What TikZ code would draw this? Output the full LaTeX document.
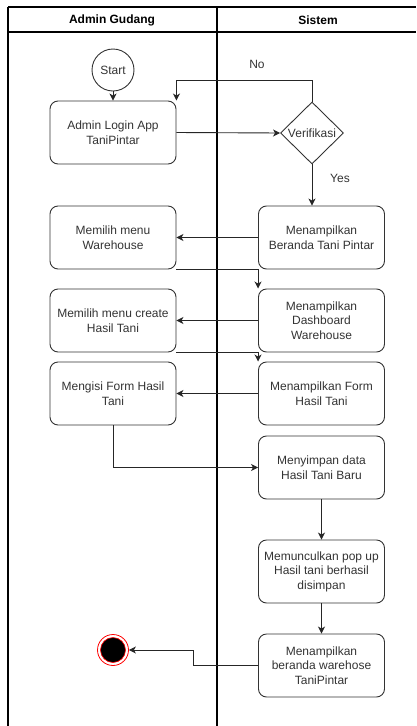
\documentclass[tikz,border=0pt]{standalone}
\usepackage{fontspec}
\setmainfont{Liberation Sans}
\usetikzlibrary{shapes.geometric,arrows.meta}
\begin{document}
\begin{tikzpicture}[x=1pt,y=-1pt,
  act/.style={draw=black!80, line width=0.9pt, rounded corners=8pt,
    minimum width=126pt, minimum height=63pt, align=center, inner sep=1pt,
    font=\fontsize{12}{14.5}\selectfont, text=black!80},
  flow/.style={draw=black!85, line width=0.9pt,
    -{Stealth[length=7pt,width=7pt,inset=2pt]}},
  lane/.style={line width=1.1pt, draw=black},
  head/.style={font=\bfseries\fontsize{12}{14}\selectfont},
  note/.style={font=\fontsize{12}{14}\selectfont, text=black!80}]
\useasboundingbox (0,0) rectangle (416,726);

% swimlanes
\draw[lane] (8,7) -- (416,7);
\draw[lane] (8,32) -- (416,32);
\draw[lane] (8,7) -- (8,726);
\draw[lane] (217,7) -- (217,726);
\node[head] (hadmin) at (112,20) {Admin Gudang};
\node[head] (hsys) at (318,20) {Sistem};

% start / end states
\node[circle, draw=black!80, line width=0.9pt, minimum size=42pt, inner sep=0pt,
  font=\fontsize{12}{14}\selectfont, text=black!80] (start) at (113,70) {Start};
\node[circle, draw=red, line width=0.8pt, minimum size=31pt, inner sep=0pt] (end) at (113,650) {};
\node[circle, fill=black, draw=red, line width=0.6pt, minimum size=25pt, inner sep=0pt] (endcore) at (113,650) {};

% activities
\node[act] (login) at (113,132.5) {Admin Login App\\TaniPintar};
\node[diamond, draw=black!80, line width=0.9pt, minimum width=63pt, minimum height=62pt,
  inner sep=0pt, label={[note]center:Verifikasi}] (verif) at (312,133) {};
\node[act] (beranda) at (321.5,237.5) {Menampilkan\\Beranda Tani Pintar};
\node[act] (menu) at (113,237.5) {Memilih menu\\Warehouse};
\node[act] (dash) at (321.5,320.5) {Menampilkan\\Dashboard\\Warehouse};
\node[act] (create) at (113,320.5) {Memilih menu create\\Hasil Tani};
\node[act] (form) at (321.5,393.5) {Menampilkan Form\\Hasil Tani};
\node[act] (isi) at (113,393.5) {Mengisi Form Hasil\\Tani};
\node[act] (simpan) at (321.5,467.5) {Menyimpan data\\Hasil Tani Baru};
\node[act] (popup) at (321.5,571.5) {Memunculkan pop up\\Hasil tani berhasil\\disimpan};
\node[act] (akhir) at (321.5,665.5) {Menampilkan\\beranda warehose\\TaniPintar};

% labels
\node[note] (lno) at (257,64) {No};
\node[note] (lyes) at (340,178) {Yes};

% flows
\draw[flow] (start) -- (login);
\draw[flow] (login.east) -- (verif.west);
\draw[flow] (verif.north) -- ++(0,-21) -| (login.north east);
\draw[flow] (verif.south) -- (verif.south |- beranda.north);
\draw[flow] (beranda.west) -- (menu.east);
\draw[flow] (menu.south east) -| (dash.north west);
\draw[flow] (dash.west) -- (create.east);
\draw[flow] (create.south east) -| (form.north west);
\draw[flow] (form.west) -- (isi.east);
\draw[flow] (isi.south) |- (simpan.west);
\draw[flow] (simpan) -- (popup);
\draw[flow] (popup) -- (akhir);
\draw[flow] (akhir.west) -- ++(-65,0) |- (end.east);
\end{tikzpicture}
\end{document}
